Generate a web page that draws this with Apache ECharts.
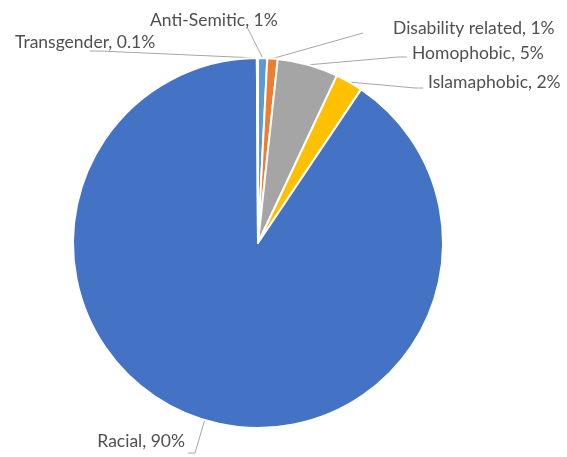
<!DOCTYPE html>
<html>
<head>
<meta charset="utf-8">
<script src="https://cdn.jsdelivr.net/npm/echarts@6/dist/echarts.min.js"></script>
<style>
html,body{margin:0;padding:0;background:#fff;}
#chart{width:567px;height:457px;}
</style>
</head>
<body>
<div id="chart"></div>
<script>
// Data (clockwise from 12 o'clock)
const categories = ['Anti-Semitic', 'Disability related', 'Homophobic', 'Islamaphobic', 'Racial', 'Transgender'];
const values = [0.8, 0.9, 5.3, 2.4, 90.4, 0.1];
const labelPercents = ['1%', '1%', '5%', '2%', '90%', '0.1%'];
const colors = ['#5B9BD5', '#ED7D31', '#A5A5A5', '#FFC000', '#4472C4', '#70AD47'];

// Label placement (style, not data): text anchor [x, y], align, and leader bend point
const labelPlacement = [
  {x: 150, y: 20, align: 'left', bend: [[247, 27]]},
  {x: 393, y: 28, align: 'left', bend: [[363, 33]]},
  {x: 412, y: 53, align: 'left', bend: [[398, 57], [407, 57]]},
  {x: 428, y: 82, align: 'left', bend: [[415, 88], [423, 88]]},
  {x: 185, y: 441, align: 'right', bend: [[195, 453], [188, 453]]},
  {x: 15, y: 42, align: 'left', bend: [[100, 51], [90, 51]]}
];

const chart = echarts.init(document.getElementById('chart'), null, {renderer: 'canvas'});
chart.setOption({
  animation: false,
  color: colors,
  series: [{
    type: 'pie',
    center: [258, 243],
    radius: 185,
    startAngle: 90,
    clockwise: true,
    avoidLabelOverlap: false,
    itemStyle: {borderColor: '#ffffff', borderWidth: 2},
    data: categories.map((c, i) => ({name: c, value: values[i]})),
    label: {
      show: true,
      position: 'outside',
      formatter: (p) => p.name + ', ' + labelPercents[p.dataIndex],
      fontFamily: 'Lato',
      fontSize: 17.5,
      color: '#505050'
    },
    labelLine: {
      show: true,
      length: 10,
      length2: 10,
      lineStyle: {color: '#A6A6A6', width: 1}
    },
    labelLayout: function (params) {
      const pl = labelPlacement[params.dataIndex];
      const start = params.labelLinePoints ? params.labelLinePoints[0] : [pl.x, pl.y];
      return {
        x: pl.x,
        y: pl.y,
        align: pl.align,
        verticalAlign: 'middle',
        hideOverlap: false,
        labelLinePoints: [start].concat(pl.bend)
      };
    }
  }]
});
</script>
</body>
</html>
